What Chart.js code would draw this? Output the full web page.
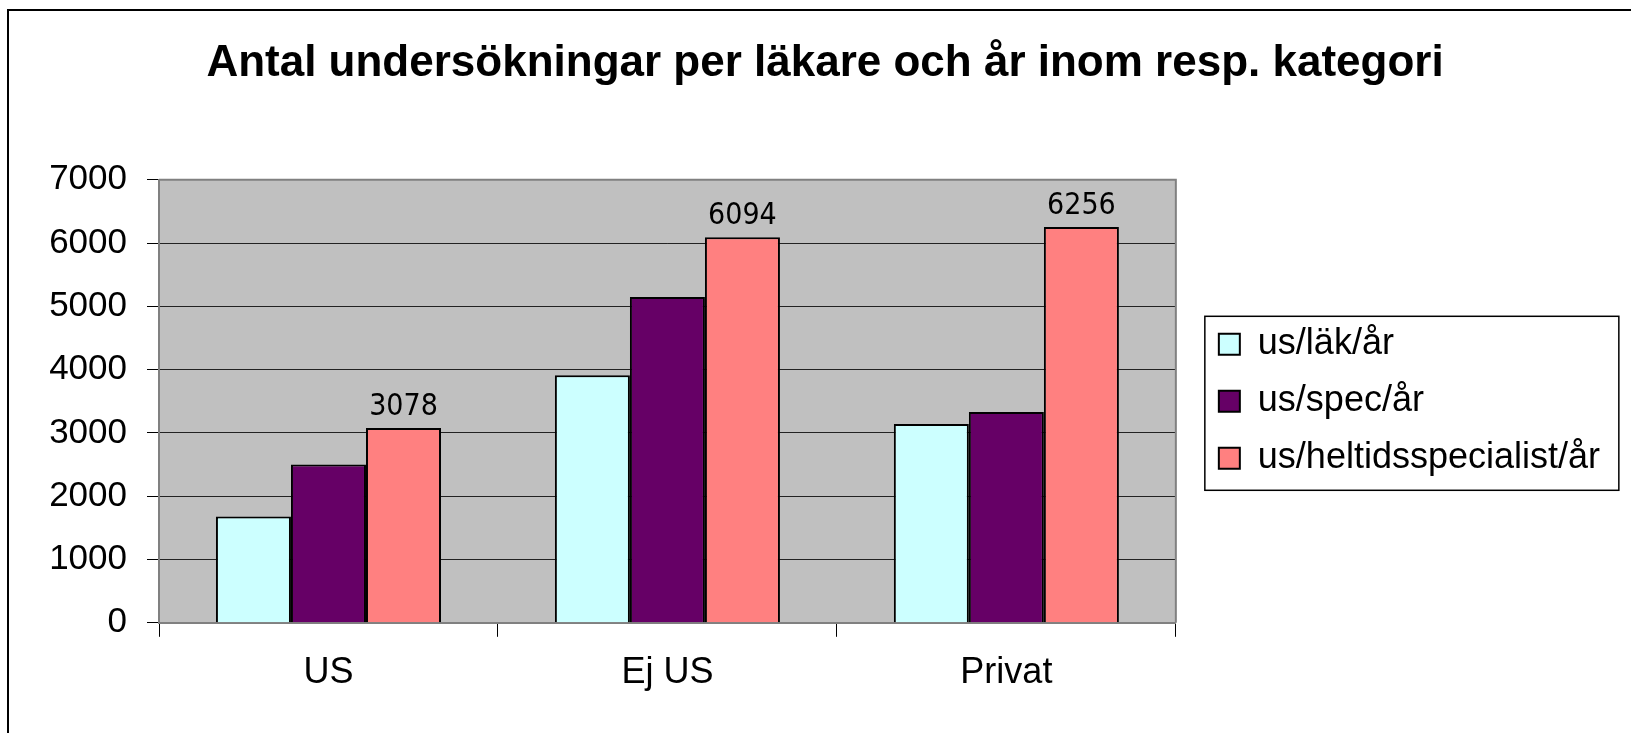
<!DOCTYPE html>
<html>
<head>
<meta charset="utf-8">
<script src="https://cdn.jsdelivr.net/npm/chart.js@4"></script>
<style>
    html, body { margin: 0; padding: 0; background: #fff; overflow: hidden; }
    #wrap { width: 1631px; height: 733px; position: relative; }
</style>
</head>
<body>
<div id="wrap"><canvas id="chart-main"></canvas></div>
<script>
// Antal undersökningar per läkare och år – grouped bars, 3 categories

const categories   = ['US', 'Ej US', 'Privat'];
const seriesNames  = ['us/läk/år', 'us/spec/år', 'us/heltidsspecialist/år'];
const lakPerAr     = [1680, 3910, 3140];
const specPerAr    = [2500, 5150, 3330];
const heltidsPerAr = [3078, 6094, 6256];
const yMax  = 7000;
const yStep = 1000;
const labelledSeries = [2];   // only heltidsspecialist gets value labels

const COLORS = ['#CCFFFF', '#660066', '#FF8080'];
const FONT = "'Liberation Sans', Arial, sans-serif";

Chart.defaults.font.family = FONT;
Chart.defaults.color = '#000';

// ── Plot background, outer frame, legend box ─────────────
const decorPlugin = {
    id: 'decor',
    beforeDraw(chart) {
        const { ctx, chartArea: a } = chart;
        ctx.save();
        ctx.fillStyle = '#C0C0C0';
        ctx.fillRect(a.left, a.top, a.right - a.left, a.bottom - a.top);
        ctx.strokeStyle = '#000';
        ctx.lineWidth = 2;
        ctx.beginPath();
        ctx.moveTo(8, 740); ctx.lineTo(8, 10); ctx.lineTo(1640, 10);
        ctx.stroke();
        ctx.restore();
    },
    beforeDatasetsDraw(chart) {
        const { ctx, chartArea: a } = chart;
        ctx.save();
        ctx.strokeStyle = '#808080';
        ctx.lineWidth = 2;
        ctx.beginPath();
        ctx.moveTo(a.left, a.top); ctx.lineTo(a.right, a.top); ctx.lineTo(a.right, a.bottom);
        ctx.stroke();
        ctx.restore();
    },
    afterDraw(chart) {
        const hb = chart.legend.legendHitBoxes;
        if (!hb || !hb.length) return;
        const last = hb[hb.length - 1];
        const ctx = chart.ctx;
        ctx.save();
        ctx.strokeStyle = '#000';
        ctx.lineWidth = 1.5;
        const x = hb[0].left - 14, y = hb[0].top - 10;
        ctx.strokeRect(x, y, 414, last.top + last.height + 14 - y);
        ctx.restore();
    }
};

// ── Value labels above bars ──────────────────────────────
const valueLabels = {
    id: 'valueLabels',
    afterDatasetsDraw(chart) {
        const ctx = chart.ctx;
        ctx.save();
        ctx.font = "30px 'DejaVu Sans Condensed', 'DejaVu Sans', sans-serif";
        ctx.fillStyle = '#000';
        ctx.textAlign = 'center';
        ctx.textBaseline = 'alphabetic';
        labelledSeries.forEach(si => {
            const meta = chart.getDatasetMeta(si);
            meta.data.forEach((bar, i) => {
                ctx.fillText(String(chart.data.datasets[si].data[i]), bar.x, bar.y - 13);
            });
        });
        ctx.restore();
    }
};

const series = [lakPerAr, specPerAr, heltidsPerAr];

new Chart(document.getElementById('chart-main'), {
    type: 'bar',
    data: {
        labels: categories,
        datasets: series.map((vals, i) => ({
            label: seriesNames[i],
            data: vals,
            backgroundColor: COLORS[i],
            borderColor: '#000',
            borderWidth: 2,
            categoryPercentage: 0.664,
            barPercentage: 1.0
        }))
    },
    options: {
        responsive: true, maintainAspectRatio: false, animation: false,
        layout: { padding: { top: 10, left: 40, right: 21, bottom: 23 } },
        plugins: {
            title: {
                display: true,
                text: 'Antal undersökningar per läkare och år inom resp. kategori',
                color: '#000',
                font: { size: 44, weight: 'bold', family: FONT },
                padding: { top: 27, bottom: 90 }
            },
            legend: {
                display: true, position: 'right', fullSize: false, maxWidth: 600,
                labels: { color: '#000', font: { size: 36, family: FONT }, boxWidth: 21, boxHeight: 21, padding: 21 }
            },
            tooltip: { enabled: false }
        },
        scales: {
            x: {
                grid: { offset: true, drawOnChartArea: false, drawTicks: true, tickLength: 14, color: '#000' },
                border: { display: true, color: '#808080', width: 2 },
                ticks: { font: { size: 36 }, padding: 15, color: '#000' }
            },
            y: {
                min: 0, max: yMax,
                afterFit(s) { s.width = 119; },
                grid: { color: '#222', lineWidth: 1, tickLength: 12, tickColor: '#000' },
                border: { display: true, color: '#808080', width: 2 },
                ticks: { stepSize: yStep, font: { size: 35 }, padding: 20, color: '#000',
                         callback: v => String(v) }
            },
            gap: {
                type: 'linear', position: 'right', display: true,
                afterFit(s) { s.width = 22; },
                grid: { display: false, drawTicks: false },
                border: { display: false },
                ticks: { display: false }
            }
        }
    },
    plugins: [decorPlugin, valueLabels]
});
</script>
</body>
</html>
